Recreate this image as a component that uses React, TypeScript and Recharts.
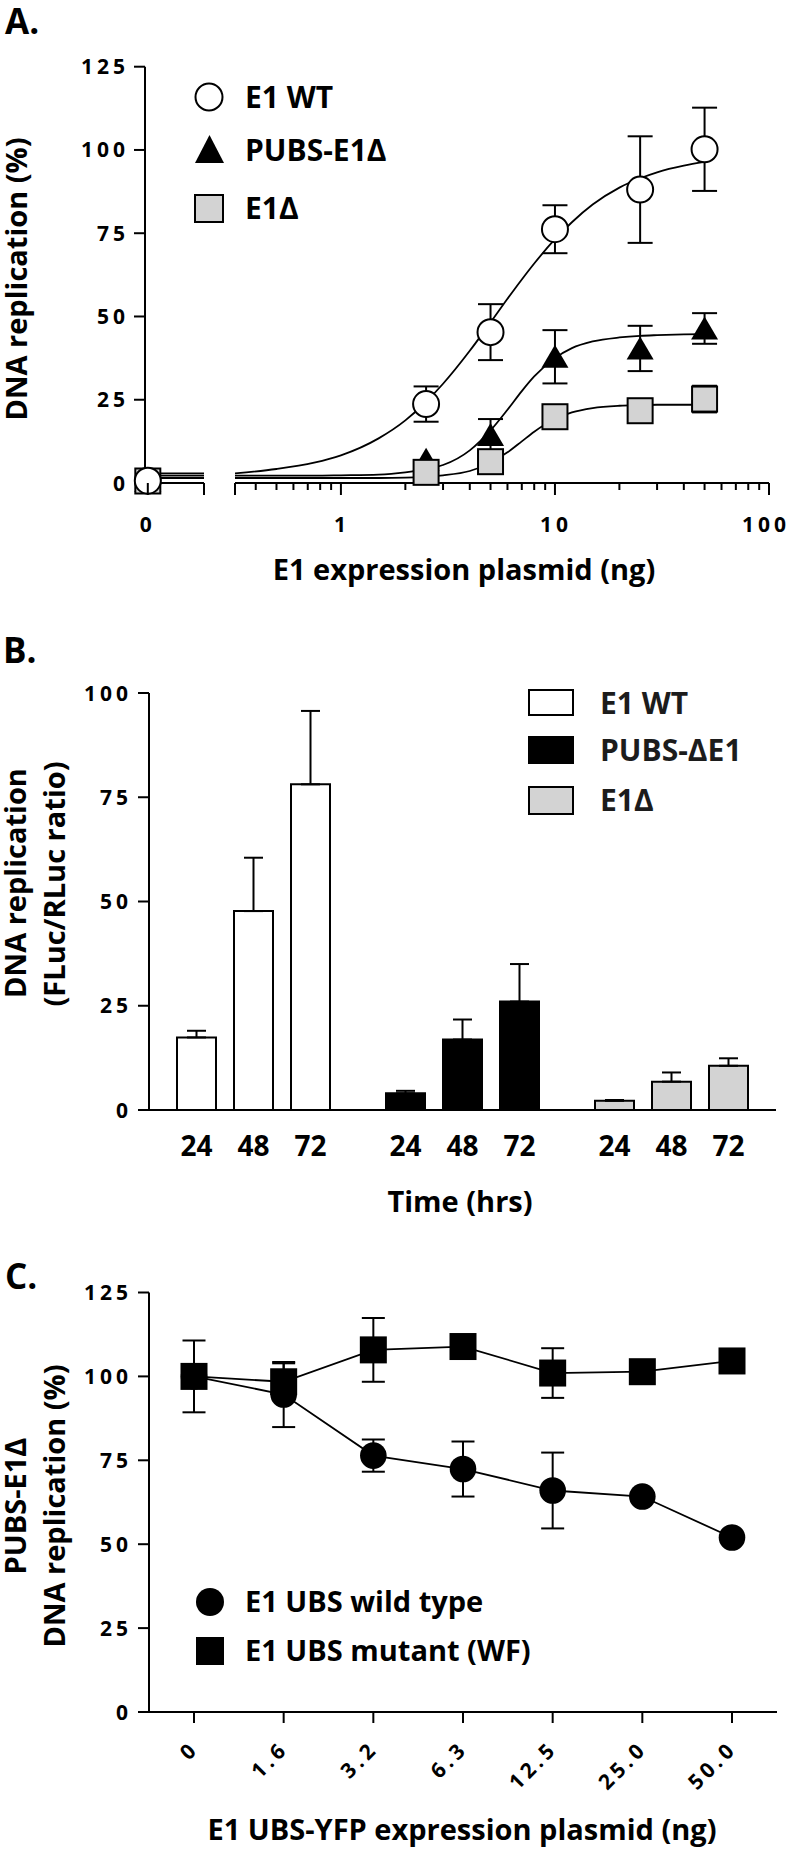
import React from 'react';
import {
  BarChart, Bar, ComposedChart, LineChart, Line, Scatter, XAxis, YAxis, ErrorBar, Cell, LabelList,
} from 'recharts';

const FONT = '"Open Sans", "DejaVu Sans", sans-serif';

// ---------- Panel A: dose response (log x axis + separate 0 ng segment) ----------
const doseLevels = [2.5, 5, 10, 25, 50];
const wtMean = [23.7, 45.3, 76.2, 88.1, 100.2];
const wtErr = [5.3, 8.4, 7.2, 16, 12.5];
const pubsMean = [7, 14.4, 37.9, 40.4, 46.4];
const pubsErr = [0, 4.8, 8, 6.8, 4.6];
const e1dMean = [3.2, 6.4, 19.9, 21.7, 25.2];
const e1dErr = [0, 0, 0, 0, 4];
// 0 ng values: WT, PUBS-E1Δ, E1Δ
const zeroDoseMean = [0.7, 0.6, 0.6];

// fitted curves
const fitDose = [0.32, 0.5, 0.75, 1, 1.5, 2, 2.5, 3, 4, 5, 6, 7, 8, 10, 12, 15, 20, 25, 30, 40, 50];
const wtFit = [2.9, 4.2, 6.1, 8.3, 13.4, 18.8, 24.4, 29.8, 39.7, 48.2, 55.3, 61.1, 65.9, 73.2, 78.3, 83.6, 88.7, 91.5, 93.3, 95.3, 96.4];
const pubsFit = [2.2, 2.2, 2.2, 2.3, 2.5, 3.2, 4.2, 5.4, 9.8, 15.8, 22, 27.6, 32, 37.5, 40.5, 42.5, 43.7, 44.2, 44.4, 44.6, 44.7];
const e1dFit = [1.5, 1.5, 1.5, 1.5, 1.5, 1.6, 1.9, 2.3, 3.6, 6.1, 9.2, 12.5, 15.4, 19.2, 21.2, 22.5, 23.2, 23.4, 23.5, 23.5, 23.5];

const logTicks = [0.32, 0.4, 0.5, 0.6, 0.7, 0.8, 0.9, 1, 2, 3, 4, 5, 6, 7, 8, 9, 10, 20, 30, 40, 50, 60, 70, 80, 90, 100];
const logLabels = [1, 10, 100];
const zeroSegment = [0, 1];
const yTicksA = [0, 25, 50, 75, 100, 125];

// ---------- Panel B: bars ----------
const barGroups = ['E1 WT', 'PUBS-ΔE1', 'E1Δ'];
const timePoints = ['24', '48', '72'];
const rep24 = [17.4, 4.0, 2.2];
const rep48 = [47.7, 16.9, 6.8];
const rep72 = [78.1, 26.0, 10.6];
const err24 = [1.6, 0.6, 0.2];
const err48 = [12.8, 4.8, 2.2];
const err72 = [17.6, 9.0, 1.8];
const yTicksB = [0, 25, 50, 75, 100];

// ---------- Panel C: titration ----------
const ubsDoses = ['0', '1.6', '3.2', '6.3', '12.5', '25.0', '50.0'];
const wildMean = [100, 94.6, 76.4, 72.4, 66, 64.2, 52];
const wildErr = [0, 9.7, 4.8, 8.2, 11.3, 0, 0];
const mutMean = [100, 98.4, 107.9, 108.9, 101, 101.4, 104.6];
const mutErr = [10.7, 5.5, 9.5, 0, 7.4, 0, 0];

const pts = (means: number[], errs: number[]) =>
  doseLevels.map((d, i) => ({ dose: d, value: means[i], err: errs[i] }));
const curve = (vals: number[]) => fitDose.map((d, i) => ({ dose: d, value: vals[i] }));
const flat = (v: number) => zeroSegment.map((d) => ({ dose: d, value: v }));

const wtPts = pts(wtMean, wtErr);
const pubsPts = pts(pubsMean, pubsErr);
const e1dPts = pts(e1dMean, e1dErr);

const barRows = barGroups.map((g, i) => ({
  group: g,
  h24: rep24[i], h48: rep48[i], h72: rep72[i],
  e24: [0, err24[i]], e48: [0, err48[i]], e72: [0, err72[i]],
}));
const barFills = ['#ffffff', '#000000', '#d3d3d3'];

const ubsRows = ubsDoses.map((d, i) => ({
  dose: d, wild: wildMean[i], wildErr: wildErr[i], mut: mutMean[i], mutErr: mutErr[i],
}));

const axisStroke = { stroke: '#000', strokeWidth: 2 };
const tickText: React.CSSProperties = { fontFamily: FONT, fontWeight: 700, fontSize: 21, fill: '#000', letterSpacing: 4 };
const titleText: React.CSSProperties = { fontFamily: FONT, fontWeight: 700, fontSize: 29, fill: '#000' };
const abs = (top: number): React.CSSProperties => ({ position: 'absolute', left: 0, top });

function YTick({ x, y, payload }: any) {
  return <text x={x} y={y} dy={7.5} textAnchor="end" style={tickText}>{payload.value}</text>;
}

function LogTick({ x, y, payload }: any) {
  const v = payload.value;
  const labelled = logLabels.includes(v);
  const long = labelled || v === logTicks[0];
  return (
    <g>
      <line x1={x} x2={x} y1={y} y2={y + (long ? 12 : 7)} stroke="#000" strokeWidth={2} />
      {labelled && <text x={v === 100 ? x - 3 : x + 1} y={y + 49} textAnchor="middle" style={tickText}>{v}</text>}
    </g>
  );
}

function ZeroTick({ x, y, payload }: any) {
  return (
    <g>
      <line x1={x} x2={x} y1={y} y2={y + 12} stroke="#000" strokeWidth={2} />
      {payload.value === 0 && <text x={x} y={y + 49} textAnchor="middle" style={tickText}>0</text>}
    </g>
  );
}

function RotTick({ x, y, payload }: any) {
  const ax = x + 6;
  const ay = y + 27;
  return (
    <text x={ax} y={ay} textAnchor="end" transform={`rotate(-45, ${ax}, ${ay})`} style={tickText}>
      {payload.value}
    </text>
  );
}

const OpenCircle = ({ cx, cy }: any) => <circle cx={cx} cy={cy} r={13} fill="#fff" stroke="#000" strokeWidth={2} />;
const Triangle = ({ cx, cy }: any) => (
  <polygon points={`${cx},${cy - 12} ${cx - 13.5},${cy + 11} ${cx + 13.5},${cy + 11}`} fill="#000" />
);
const GreySquare = ({ cx, cy }: any) => (
  <rect x={cx - 12.5} y={cy - 12.5} width={25} height={25} fill="#d3d3d3" stroke="#000" strokeWidth={2} />
);
const Blank = () => <g />;

const timeLabel = (text: string) => (p: any) => (
  <text x={p.x + p.width / 2} y={p.y + p.height + 46} textAnchor="middle"
    style={{ fontFamily: FONT, fontWeight: 700, fontSize: 28, fill: '#000' }}>
    {text}
  </text>
);

function PanelA() {
  const errBar = (
    <ErrorBar dataKey="err" direction="y" width={12.5} stroke="#000" strokeWidth={2} />
  );
  return (
    <>
      {/* 0 ng segment + y axis */}
      <ComposedChart width={793} height={600} style={abs(0)}
        margin={{ top: 66.7, right: 589, bottom: 77, left: 85 }}>
        <XAxis type="number" dataKey="dose" domain={[-0.05, 1]} ticks={zeroSegment} interval={0}
          height={40} tickSize={0} tickMargin={0} tickLine={false} axisLine={axisStroke} tick={<ZeroTick />} />
        <YAxis type="number" dataKey="value" domain={[0, 125]} ticks={yTicksA} interval={0} width={60}
          tickSize={11} tickMargin={5} axisLine={axisStroke} tickLine={axisStroke} tick={<YTick />} />
        <Line data={flat(wtFit[0])} dataKey="value" stroke="#000" strokeWidth={1.8} dot={false} isAnimationActive={false} />
        <Line data={flat(pubsFit[0])} dataKey="value" stroke="#000" strokeWidth={1.8} dot={false} isAnimationActive={false} />
        <Line data={flat(e1dFit[0])} dataKey="value" stroke="#000" strokeWidth={1.8} dot={false} isAnimationActive={false} />
        <Scatter data={[{ dose: 0, value: zeroDoseMean[1] }]} shape={(p: any) => <Triangle {...p} />} isAnimationActive={false} />
        <Scatter data={[{ dose: 0, value: zeroDoseMean[2] }]} shape={(p: any) => <GreySquare {...p} />} isAnimationActive={false} />
        <Scatter data={[{ dose: 0, value: zeroDoseMean[0] }]} shape={(p: any) => <OpenCircle {...p} />} isAnimationActive={false} />
      </ComposedChart>

      {/* log segment */}
      <ComposedChart width={793} height={600} style={abs(0)}
        margin={{ top: 66.7, right: 24, bottom: 77, left: 235 }}>
        <XAxis type="number" dataKey="dose" scale="log" domain={[0.32, 100]} allowDataOverflow ticks={logTicks}
          interval={0} height={40} tickSize={0} tickMargin={0} tickLine={false} axisLine={axisStroke} tick={<LogTick />} />
        <YAxis type="number" dataKey="value" domain={[0, 125]} hide />
        <Scatter data={e1dPts} shape={Blank} isAnimationActive={false}>{errBar}</Scatter>
        <Scatter data={pubsPts} shape={Blank} isAnimationActive={false}>{errBar}</Scatter>
        <Scatter data={wtPts} shape={Blank} isAnimationActive={false}>{errBar}</Scatter>
        <Line data={curve(wtFit)} dataKey="value" type="monotone" stroke="#000" strokeWidth={1.8} dot={false} isAnimationActive={false} />
        <Line data={curve(pubsFit)} dataKey="value" type="monotone" stroke="#000" strokeWidth={1.8} dot={false} isAnimationActive={false} />
        <Line data={curve(e1dFit)} dataKey="value" type="monotone" stroke="#000" strokeWidth={1.8} dot={false} isAnimationActive={false} />
        <Scatter data={pubsPts} shape={(p: any) => <Triangle {...p} />} isAnimationActive={false} />
        <Scatter data={e1dPts} shape={(p: any) => <GreySquare {...p} />} isAnimationActive={false} />
        <Scatter data={wtPts} shape={(p: any) => <OpenCircle {...p} />} isAnimationActive={false} />
      </ComposedChart>
    </>
  );
}

function PanelB() {
  const keys = ['h24', 'h48', 'h72'];
  const errKeys = ['e24', 'e48', 'e72'];
  return (
    <BarChart width={793} height={560} data={barRows} style={abs(640)} barSize={39} barGap={18}
      margin={{ top: 53, right: 17, bottom: 50, left: 89 }}>
      <XAxis dataKey="group" height={40} tick={false} tickLine={false} axisLine={axisStroke} />
      <YAxis type="number" domain={[0, 100]} ticks={yTicksB} interval={0} width={60}
        tickSize={11} tickMargin={6} axisLine={axisStroke} tickLine={axisStroke} tick={<YTick />} />
      {keys.map((k, j) => (
        <Bar key={k} dataKey={k} stroke="#000" strokeWidth={2} isAnimationActive={false}>
          {barRows.map((r, i) => <Cell key={r.group} fill={barFills[i]} />)}
          <ErrorBar dataKey={errKeys[j]} direction="y" width={9.5} stroke="#000" strokeWidth={2} />
          <LabelList dataKey={k} content={timeLabel(timePoints[j])} />
        </Bar>
      ))}
    </BarChart>
  );
}

function PanelC() {
  return (
    <LineChart width={793} height={611} data={ubsRows} style={abs(1240)}
      margin={{ top: 52.5, right: 16, bottom: 79, left: 89 }}>
      <XAxis dataKey="dose" padding={{ left: 45, right: 45 }} interval={0} height={60}
        tickSize={11} tickMargin={0} axisLine={axisStroke} tickLine={axisStroke} tick={<RotTick />} />
      <YAxis type="number" domain={[0, 125]} ticks={yTicksA} interval={0} width={60}
        tickSize={11} tickMargin={6} axisLine={axisStroke} tickLine={axisStroke} tick={<YTick />} />
      <Line dataKey="wild" stroke="#000" strokeWidth={1.8} isAnimationActive={false}
        dot={(p: any) => <circle key={`w${p.index}`} cx={p.cx} cy={p.cy} r={13.3} fill="#000" />}>
        <ErrorBar dataKey="wildErr" direction="y" width={11.5} stroke="#000" strokeWidth={2} />
      </Line>
      <Line dataKey="mut" stroke="#000" strokeWidth={1.8} isAnimationActive={false}
        dot={(p: any) => <rect key={`m${p.index}`} x={p.cx - 13.5} y={p.cy - 13.5} width={27} height={27} fill="#000" />}>
        <ErrorBar dataKey="mutErr" direction="y" width={11.5} stroke="#000" strokeWidth={2} />
      </Line>
    </LineChart>
  );
}

function Overlay() {
  const legendA: React.CSSProperties = { fontFamily: FONT, fontWeight: 700, fontSize: 30, fill: '#000' };
  const legendB: React.CSSProperties = { ...legendA, fill: '#1c1c1c' };
  return (
    <svg width={793} height={1851} style={{ position: 'absolute', left: 0, top: 0, pointerEvents: 'none' }}>
      {/* panel letters */}
      <text x={5} y={34} style={{ ...titleText, fontSize: 35 }}>A.</text>
      <text x={3} y={663} style={{ ...titleText, fontSize: 35 }}>B.</text>
      <text x={5} y={1289} style={{ ...titleText, fontSize: 35 }}>C.</text>

      {/* panel A titles and legend */}
      <text transform="translate(26.5, 279) rotate(-90)" textAnchor="middle" style={titleText}>DNA replication (%)</text>
      <text x={464} y={580} textAnchor="middle" style={titleText}>E1 expression plasmid (ng)</text>
      <circle cx={209} cy={97} r={13.5} fill="#fff" stroke="#000" strokeWidth={2} />
      <polygon points="209.5,135 195,163 224,163" fill="#000" />
      <rect x={195} y={195} width={28} height={27} fill="#d3d3d3" stroke="#000" strokeWidth={2} />
      <text x={245} y={108} style={legendA}>E1 WT</text>
      <text x={245} y={161} style={legendA}>PUBS-E1Δ</text>
      <text x={245} y={219} style={legendA}>E1Δ</text>

      {/* panel B titles and legend */}
      <text transform="translate(25.5, 883) rotate(-90)" textAnchor="middle" style={titleText}>DNA replication</text>
      <text transform="translate(64.5, 884) rotate(-90)" textAnchor="middle" style={titleText}>(FLuc/RLuc ratio)</text>
      <text x={460} y={1212} textAnchor="middle" style={titleText}>Time (hrs)</text>
      <rect x={529} y={690} width={44} height={25} fill="#fff" stroke="#000" strokeWidth={2} />
      <rect x={529} y={737} width={44} height={26} fill="#000" stroke="#000" strokeWidth={2} />
      <rect x={529} y={787} width={44} height={27} fill="#d3d3d3" stroke="#000" strokeWidth={2} />
      <text x={600} y={714} style={legendB}>E1 WT</text>
      <text x={600} y={761} style={legendB}>PUBS-ΔE1</text>
      <text x={600} y={811} style={legendB}>E1Δ</text>

      {/* panel C titles and legend */}
      <text transform="translate(25.5, 1506) rotate(-90)" textAnchor="middle" style={titleText}>PUBS-E1Δ</text>
      <text transform="translate(64.5, 1506) rotate(-90)" textAnchor="middle" style={titleText}>DNA replication (%)</text>
      <text x={462} y={1840} textAnchor="middle" style={titleText}>E1 UBS-YFP expression plasmid (ng)</text>
      <circle cx={210} cy={1602} r={14} fill="#000" />
      <rect x={196} y={1637} width={28} height={28} fill="#000" />
      <text x={245} y={1612} style={titleText}>E1 UBS wild type</text>
      <text x={245} y={1661} style={titleText}>E1 UBS mutant (WF)</text>
    </svg>
  );
}

export default function App() {
  return (
    <div style={{ position: 'absolute', left: 0, top: 0, width: 793, height: 1851, background: '#fff', overflow: 'hidden' }}>
      <PanelA />
      <PanelB />
      <PanelC />
      <Overlay />
    </div>
  );
}
